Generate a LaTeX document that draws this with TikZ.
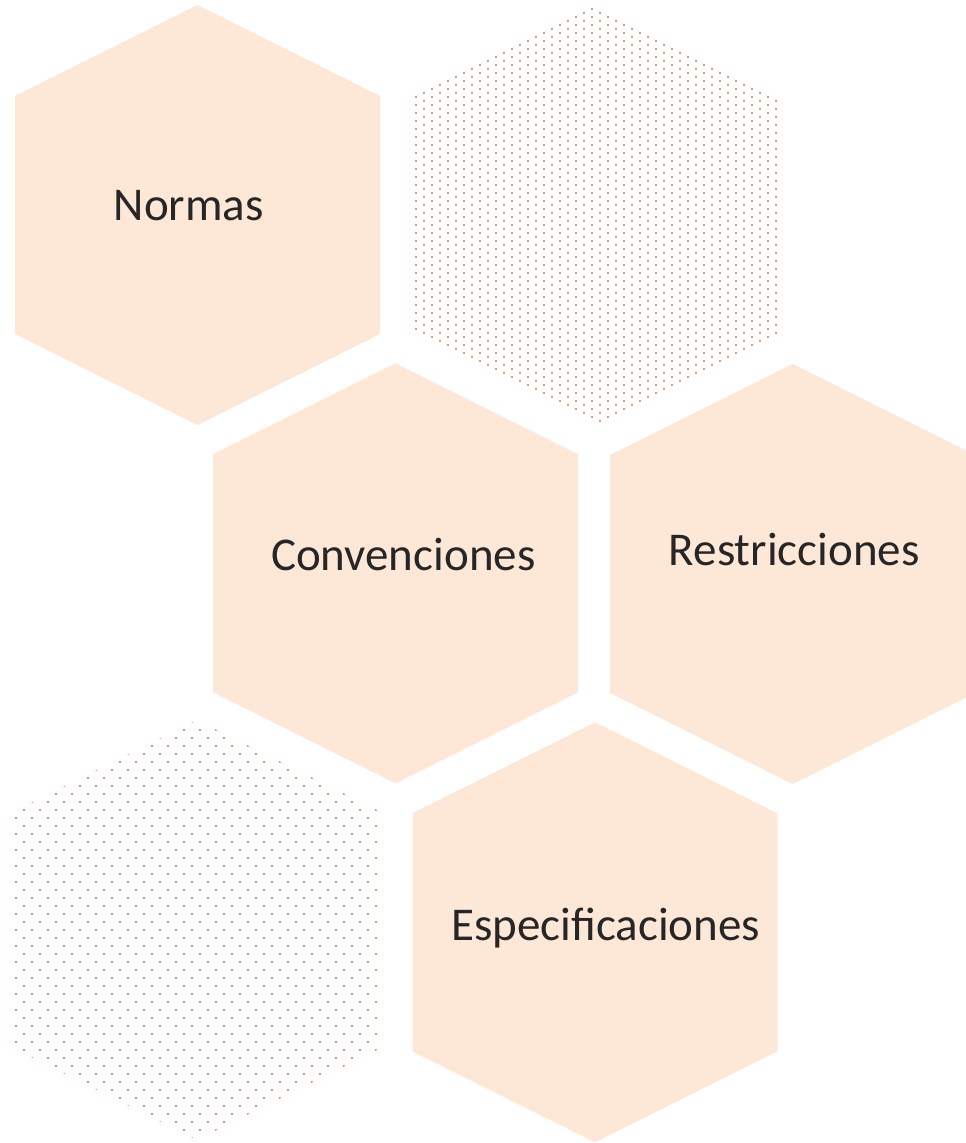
\documentclass[tikz,border=0pt]{standalone}
\usepackage{fontspec}
\setmainfont{Carlito}
\definecolor{hexfill}{RGB}{253,231,214}
\definecolor{dotc}{RGB}{245,150,110}
\definecolor{txt}{RGB}{38,38,38}
\newcommand\hexat[2]{({#1},{#2-210}) -- ({#1+182.5},{#2-119}) -- ({#1+182.5},{#2+119}) -- ({#1},{#2+210}) -- ({#1-182.5},{#2+119}) -- ({#1-182.5},{#2-119}) -- cycle}
\tikzset{
  hexagonfill/.style={fill=hexfill},
  label text/.style={anchor=base, inner sep=0pt, text=txt, font=\fontsize{47}{52}\selectfont},
}
\begin{document}
\begin{tikzpicture}[x=1pt,y=-1pt]
\useasboundingbox (0,0) rectangle (966,1143);
% solid hexagons
\fill[hexagonfill] \hexat{197.5}{215};
\fill[hexagonfill] \hexat{395.5}{573.3};
\fill[hexagonfill] \hexat{792.7}{574};
\fill[hexagonfill] \hexat{595}{932.3};
% dotted hexagon top right
\begin{scope}
\clip \hexat{595.5}{215};
\foreach \r in {0,...,106}{
  \pgfmathsetmacro\yy{4+4*\r}
  \pgfmathsetmacro\off{mod(\r,2)*8}
  \foreach \c in {0,...,24}{
    \fill[dotc] ({407+\off+16*\c},\yy) rectangle ++(2.2,2.2);
  }
}
\end{scope}
% dotted hexagon bottom left
\begin{scope}
\clip \hexat{197}{930};
\foreach \r in {0,...,54}{
  \pgfmathsetmacro\yy{713+8*\r}
  \pgfmathsetmacro\off{mod(\r,2)*8}
  \foreach \c in {0,...,24}{
    \fill[dotc] ({7+\off+16*\c},\yy) rectangle ++(2.2,2.2);
  }
}
\end{scope}
% labels
\node[label text] (normas) at (188.8,220) {Normas};
\node[label text] (conv) at (403.3,570.7) {Convenciones};
\node[label text] (restr) at (794.2,565) {Restricciones};
\node[label text] (espec) at (605.8,940.7) {Especificaciones};
\end{tikzpicture}
\end{document}
